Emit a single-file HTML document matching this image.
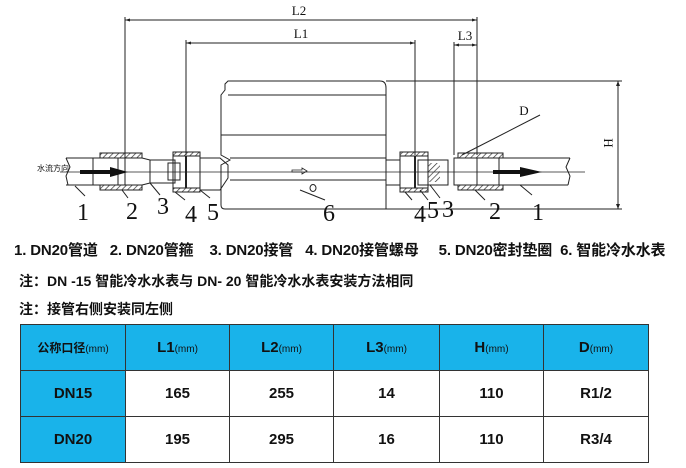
<!DOCTYPE html>
<html><head><meta charset="utf-8"><style>
body{margin:0;width:686px;height:468px;background:#fff;overflow:hidden;font-family:"Liberation Sans","Noto Sans CJK SC",sans-serif;position:relative}
.t{position:absolute;left:0;font-weight:bold;color:#111;white-space:nowrap}
table{position:absolute;left:20px;top:324px;border-collapse:collapse;font-family:"Liberation Sans","Noto Sans CJK SC",sans-serif}
td{border:1px solid #333;text-align:center;font-weight:bold;font-size:15px;color:#111;padding:0}
.b{background:#19b3ea}
small{font-size:10px;font-weight:normal}
</style></head><body>
<svg width="686" height="240" style="position:absolute;left:0;top:0" font-family="Liberation Serif,serif">
<defs><pattern id="h" width="4" height="4" patternUnits="userSpaceOnUse" patternTransform="rotate(45)"><line x1="0" y1="0" x2="0" y2="4" stroke="#333" stroke-width="1.4"/></pattern></defs>
<g stroke="#222" stroke-width="1" fill="none">
<line x1="125" y1="17" x2="125" y2="160"/><line x1="125" y1="20" x2="477" y2="20"/><line x1="477" y1="17" x2="477" y2="155"/>
<line x1="186" y1="40" x2="186" y2="155"/><line x1="186" y1="43" x2="415" y2="43"/><line x1="415" y1="40" x2="415" y2="155"/>
<line x1="454" y1="42" x2="454" y2="155"/><line x1="454" y1="45" x2="477" y2="45"/>
<line x1="386" y1="81" x2="622" y2="81"/><line x1="386" y1="209" x2="622" y2="209"/><line x1="618" y1="81" x2="618" y2="209"/>
<line x1="462" y1="155" x2="540" y2="115"/>
<path d="M228 81 H380 Q386 81 386 88 V209 H225 Q221 209 221 205 V165 L230 160 L221 155 V95 L225 90 V84 Z"/>
<line x1="228" y1="95" x2="386" y2="95"/><line x1="221" y1="135" x2="386" y2="135"/>
<line x1="230" y1="158" x2="386" y2="158"/><line x1="230" y1="180" x2="386" y2="180"/>
<path d="M200 158 H220 L228 165 V178 L220 190 H200"/>
<line x1="386" y1="160" x2="400" y2="160"/><line x1="386" y1="185" x2="400" y2="185"/>
<line x1="300" y1="190" x2="325" y2="200"/><ellipse cx="313" cy="188" rx="3" ry="3.5"/>
<line x1="60" y1="172" x2="585" y2="172" stroke-width="0.7"/>
<path d="M66 158 H118 M66 185 H118 M66 158 L70 167 L66 176 L68 185"/>
<rect x="93" y="158" width="25" height="27"/>
<rect x="100" y="153" width="42" height="5" fill="url(#h)"/><rect x="100" y="185" width="42" height="5" fill="url(#h)"/>
<line x1="118" y1="158" x2="118" y2="185"/><line x1="125" y1="158" x2="125" y2="185"/><line x1="142" y1="158" x2="150" y2="160"/><line x1="142" y1="185" x2="150" y2="183"/>
<rect x="150" y="160" width="25" height="23"/><rect x="168" y="163" width="12" height="17"/>
<rect x="173" y="152" width="27" height="40"/><rect x="173" y="152" width="27" height="4" fill="url(#h)"/><rect x="173" y="188" width="27" height="4" fill="url(#h)"/>
<line x1="186" y1="156" x2="186" y2="188" stroke-width="2"/>
<rect x="400" y="152" width="28" height="40"/><rect x="400" y="152" width="28" height="4" fill="url(#h)"/><rect x="400" y="188" width="28" height="4" fill="url(#h)"/>
<line x1="415" y1="156" x2="415" y2="188" stroke-width="2"/>
<rect x="418" y="160" width="30" height="25"/><rect x="428" y="163" width="12" height="19" fill="url(#h)" stroke="none"/>
<rect x="454" y="158" width="45" height="27"/><rect x="458" y="153" width="45" height="5" fill="url(#h)"/><rect x="458" y="185" width="45" height="5" fill="url(#h)"/>
<line x1="477" y1="158" x2="477" y2="185"/>
<path d="M485 158 H570 M485 185 H568 M570 158 L566 167 L570 176 L568 185"/>
<path d="M75 186 L85 196 M122 190 L128 198 M150 183 L160 195 M175 192 L185 200 M200 190 L210 198 M405 192 L412 200 M420 190 L428 200 M430 185 L440 198 M475 190 L485 200 M520 185 L532 195"/>
</g>
<polygon points="80,170 110,170 110,167 128,172 110,177 110,174 80,174" fill="#111"/>
<polygon points="493,170 520,170 520,167 542,172 520,177 520,174 493,174" fill="#111"/>
<polygon points="292,170 302,170 302,168 307,171 302,174 302,172 292,172" fill="none" stroke="#222" stroke-width="0.8"/>
<g fill="#222"><polygon points="125,20 130,18.5 130,21.5"/><polygon points="477,20 472,18.5 472,21.5"/><polygon points="186,43 191,41.5 191,44.5"/><polygon points="415,43 410,41.5 410,44.5"/><polygon points="454,45 459,43.5 459,46.5"/><polygon points="477,45 472,43.5 472,46.5"/><polygon points="618,81 616,86 620,86"/><polygon points="618,209 616,204 620,204"/></g>
<g fill="#111" font-size="13" text-anchor="middle"><text x="299" y="15">L2</text><text x="301" y="38">L1</text><text x="465" y="40">L3</text><text x="524" y="115">D</text><text x="604" y="143" transform="rotate(90 604 143)">H</text></g>
<g fill="#111" font-size="24" text-anchor="middle"><text x="83" y="220">1</text><text x="132" y="219">2</text><text x="163" y="214">3</text><text x="191" y="222">4</text><text x="213" y="220">5</text><text x="329" y="221">6</text><text x="420" y="222">4</text><text x="433" y="218">5</text><text x="448" y="217">3</text><text x="495" y="219">2</text><text x="538" y="220">1</text></g>
<text x="37" y="171" font-size="8" font-family="Noto Sans CJK SC,sans-serif" fill="#111">水流方向</text>
</svg>
<div class="t" style="top:239px;left:14px;font-size:15px;letter-spacing:-0.15px">1. DN20管道 &nbsp; 2. DN20管箍 &nbsp;&nbsp; 3. DN20接管 &nbsp; 4. DN20接管螺母 &nbsp;&nbsp;&nbsp; 5. DN20密封垫圈 &nbsp;6. 智能冷水水表</div>
<div class="t" style="top:271px;left:19px;font-size:14px">注：DN -15 智能冷水水表与 DN- 20 智能冷水水表安装方法相同</div>
<div class="t" style="top:299px;left:19px;font-size:14px">注：接管右侧安装同左侧</div>
<table>
<tr style="height:46px"><td class="b" style="width:104px;font-size:12px">公称口径<small>(mm)</small></td><td class="b" style="width:103px">L1<small>(mm)</small></td><td class="b" style="width:103px">L2<small>(mm)</small></td><td class="b" style="width:105px">L3<small>(mm)</small></td><td class="b" style="width:103px">H<small>(mm)</small></td><td class="b" style="width:104px">D<small>(mm)</small></td></tr>
<tr style="height:46px"><td class="b">DN15</td><td>165</td><td>255</td><td>14</td><td>110</td><td>R1/2</td></tr>
<tr style="height:46px"><td class="b">DN20</td><td>195</td><td>295</td><td>16</td><td>110</td><td>R3/4</td></tr>
</table>
</body></html>
